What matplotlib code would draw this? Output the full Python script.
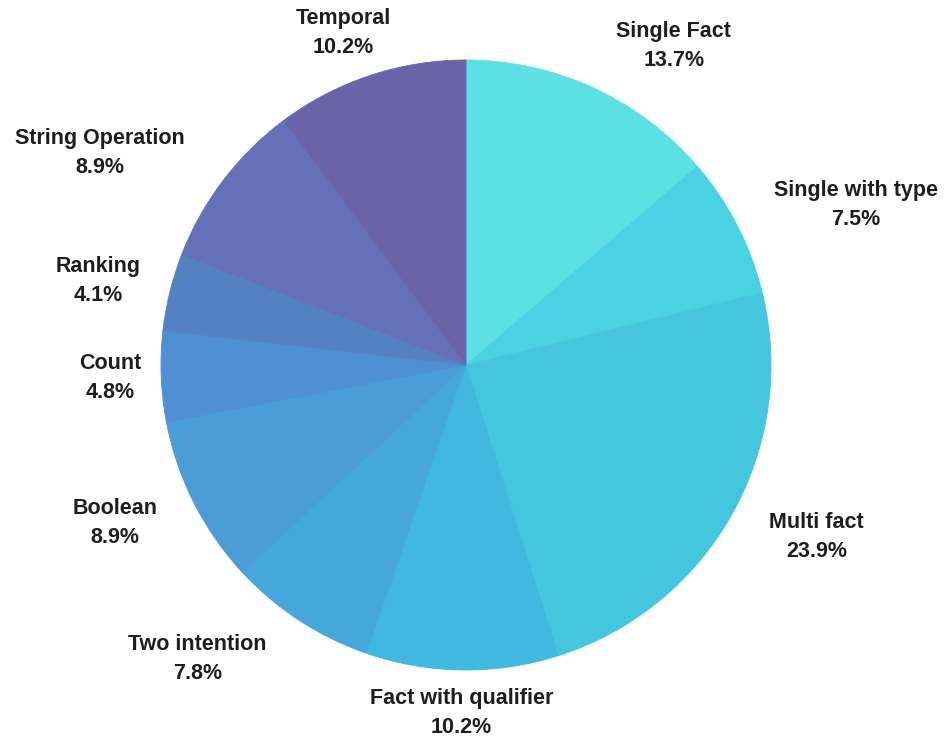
import numpy as np
import matplotlib.pyplot as plt

# Question type distribution
categories = ['Single Fact', 'Single with type', 'Multi fact', 'Fact with qualifier',
              'Two intention', 'Boolean', 'Count', 'Ranking', 'String Operation', 'Temporal']
shares = [13.7, 7.5, 23.9, 10.2, 7.8, 8.9, 4.8, 4.1, 8.9, 10.2]
colors = ['#5ce0e3', '#4bd2e2', '#46c6de', '#41b8e0', '#44a8da',
          '#4a9dd6', '#4e90d2', '#5580c2', '#6470b8', '#6a63a8']

W, H = 946, 743
R = 305.0                      # pie radius in pixels
cx, cy = 466.0, H - 365.0      # pie centre in pixels (from bottom-left)

fig = plt.figure(figsize=(W / 100, H / 100), dpi=100)
ax = fig.add_axes([0, 0, 1, 1])
wedges, _ = ax.pie(shares, colors=colors, startangle=90, counterclock=False,
                   radius=1.0)
for w in wedges:
    w.set_edgecolor(w.get_facecolor())
    w.set_linewidth(0.6)
ax.set_xlim(-cx / R, (W - cx) / R)
ax.set_ylim(-cy / R, (H - cy) / R)
ax.set_aspect('equal', adjustable='box')
ax.axis('off')

fig.canvas.draw()
renderer = fig.canvas.get_renderer()

# labels sit just outside the rim, pushed out by their own box size
label_dist = 1.06
diag_push = 25 / R
for w, name, val in zip(wedges, categories, shares):
    mid = np.deg2rad((w.theta1 + w.theta2) / 2)
    ux, uy = np.cos(mid), np.sin(mid)
    t = ax.text(0, 0, f'{name}\n{val:.1f}%', ha='center', va='center',
                multialignment='center', fontsize=15.5, fontweight='bold',
                family='Liberation Sans', color='#1e1e1e', linespacing=1.5)
    bb = t.get_window_extent(renderer)
    hw, hh = bb.width / 2 / R, bb.height / 2 / R
    side = np.clip((abs(ux) - 0.3) * 8, 0, 1)
    ox = np.sign(ux) * (hw * side + diag_push * 2 * abs(ux * uy))
    oy = hh * np.clip(uy * 1.1, -1, 1)
    t.set_position((label_dist * ux + ox, label_dist * uy + oy))

fig.savefig('out.png', dpi=100, facecolor='white')
